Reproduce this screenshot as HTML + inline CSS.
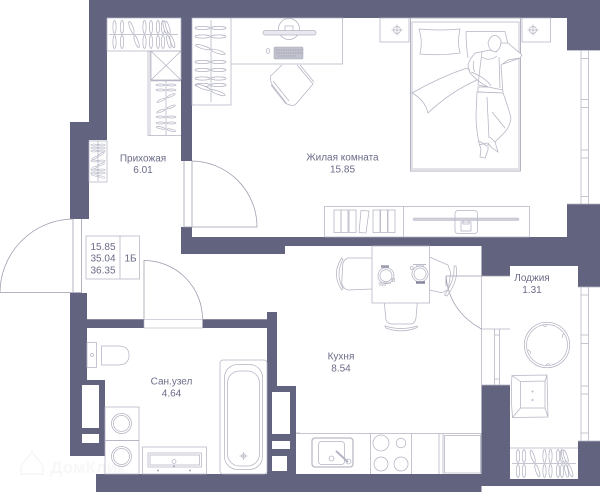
<!DOCTYPE html>
<html><head><meta charset="utf-8"><style>
html,body{margin:0;padding:0;background:#fff;width:600px;height:492px;overflow:hidden}
svg{display:block}
text{font-family:"Liberation Sans",sans-serif;font-size:10px;fill:#6b6c87;text-anchor:middle}
.f{fill:none;stroke:#b3b4c3;stroke-width:.75}
.d{fill:none;stroke:#9a9bae;stroke-width:.75}
.w{fill:#fff;stroke:#b3b4c3;stroke-width:.75}
</style></head><body>
<svg width="600" height="492" viewBox="0 0 600 492" xmlns="http://www.w3.org/2000/svg">
<defs>
<g id="h"><ellipse cx="0" cy="-7.500" rx="1.600" ry="6.500" fill="#fff" stroke="#b3b4c3" stroke-width=".7"/><ellipse cx="0" cy="7.500" rx="1.600" ry="6.500" fill="#fff" stroke="#b3b4c3" stroke-width=".7"/></g>
<g id="s"><ellipse cx="-5.500" cy="0" rx="4.500" ry="1" fill="#fff" stroke="#b3b4c3" stroke-width=".7"/><ellipse cx="5.500" cy="0" rx="4.500" ry="1" fill="#fff" stroke="#b3b4c3" stroke-width=".7"/></g>
<g id="m"><ellipse cx="-8" cy="0" rx="7.500" ry="1.600" fill="#fff" stroke="#b3b4c3" stroke-width=".7"/><ellipse cx="8" cy="0" rx="7.500" ry="1.600" fill="#fff" stroke="#b3b4c3" stroke-width=".7"/></g>
<g id="t"><ellipse cx="-3.800" cy="0" rx="3.300" ry=".9" fill="#fff" stroke="#b3b4c3" stroke-width=".6"/><ellipse cx="3.800" cy="0" rx="3.300" ry=".9" fill="#fff" stroke="#b3b4c3" stroke-width=".6"/></g>
</defs>

<!-- walls -->
<g fill="#62637e">
<path d="M89 0H600V50H567V18H192V161H181V18H107V140H89V219H70V122H89Z"/>
<path d="M181 227H192V237H567V204H600V246H285V254H181Z" />
<path d="M481.500 245H600V287H578V266H510V276H481.500Z"/>
<path d="M70 293H87V319.300H144V328H87V380H105V456H96V474H267V328H202.500V319.300H267V312H277V386H296V474H481.500V385H510V479H578V441H600V486H481.500V492H96V456H70Z"/>
</g>
<g fill="#fff">
<rect x="82" y="385" width="17" height="43"/>
<rect x="82" y="434" width="17" height="9"/>
<rect x="272" y="392" width="18" height="42"/>
<rect x="272" y="441" width="18" height="8"/>
<rect x="272" y="456" width="15" height="15"/>
</g>

<!-- hall wardrobe top -->
<rect class="f" x="107" y="18" width="74" height="33"/>
<path class="f" d="M109 34.500H178"/>
<use href="#h" x="114.500" y="34.500"/><use href="#h" x="122" y="34.500"/>
<use href="#h" transform="translate(134 34.500) rotate(-20)"/>
<use href="#h" x="144.500" y="34.500"/><use href="#h" x="151" y="34.500"/><use href="#h" x="158" y="34.500"/>
<use href="#h" x="163" y="34.500"/><use href="#h" transform="translate(167 34.500) rotate(-14)"/><use href="#h" transform="translate(170 34.500) rotate(-18)"/>

<!-- hall closet -->
<path class="f" d="M181 51H148V135.500H181M150 51V135.500"/>
<rect class="f" x="151" y="51" width="30" height="29"/>
<path class="f" d="M151 51L181 80M181 51L151 80"/>
<path d="M151 80.500H181" stroke="#b3b4c3" stroke-width="1.500"/>
<path class="f" d="M166 81V135"/>
<use href="#s" x="166" y="85"/><use href="#s" x="166" y="90"/>
<use href="#s" transform="translate(166 98) rotate(-25)"/>
<use href="#s" transform="translate(166 109) rotate(-22)"/>
<use href="#s" x="166" y="117"/><use href="#s" x="166" y="123"/>
<use href="#s" transform="translate(166 129) rotate(12)"/>

<!-- small closet -->
<rect class="f" x="89" y="141" width="18" height="41"/>
<path class="f" d="M98 141V181"/>
<use href="#t" x="98" y="145"/><use href="#t" x="98" y="148"/><use href="#t" x="98" y="151"/>
<use href="#t" transform="translate(98 156) rotate(-30)"/><use href="#t" x="98" y="161"/>
<use href="#t" transform="translate(98 166) rotate(-25)"/><use href="#t" x="98" y="170"/><use href="#t" x="98" y="173"/><use href="#t" transform="translate(98 176) rotate(15)"/>

<!-- bedroom wardrobe -->
<rect class="f" x="192" y="18" width="39" height="87"/>
<path class="f" d="M211 20V102"/>
<use href="#m" x="210.500" y="28"/><use href="#m" x="210.500" y="36.500"/>
<use href="#m" transform="translate(210.500 49.500) rotate(17)"/>
<use href="#m" x="210.500" y="62"/><use href="#m" x="210.500" y="70"/><use href="#m" x="210.500" y="78.500"/>
<use href="#m" x="210.500" y="85"/>
<use href="#m" transform="translate(210.500 90) rotate(20)"/>

<!-- desk -->
<path class="f" d="M231 18H342.500V64H231"/>
<circle class="f" cx="289" cy="29" r="10.500"/>
<rect class="f" x="285" y="26" width="8" height="5"/>
<rect x="263" y="30.500" width="53" height="4.500" rx="2.200" fill="#e8e8ee" stroke="#b3b4c3" stroke-width=".75"/>
<rect x="274" y="47" width="29" height="12" rx="1" fill="#c1c2cd" stroke="#a6a7b8" stroke-width=".5"/>
<path d="M276 50H303M276 53H303M278 56H296" stroke="#9596aa" stroke-width=".8" stroke-dasharray="1 .7"/>
<ellipse class="f" cx="268" cy="51" rx="1.500" ry="2.500"/>
<path class="f" d="M282 65L270.500 76Q270 82 273 86L287 104Q291 106 295 105L313 84L297 65"/>
<path class="f" d="M271 85L286 104M273 81L289 101M300 65L314 82"/>

<!-- bed -->
<rect class="f" x="380" y="18" width="29" height="24"/>
<rect class="f" x="522" y="18" width="28.500" height="24"/>
<g class="f"><circle cx="397" cy="30" r="3.500"/><path d="M391.500 30H402.500M397 24.500V35.500"/><circle cx="533" cy="30" r="3.500"/><path d="M527.500 30H538.500M533 24.500V35.500"/></g>
<rect x="410.500" y="18" width="110" height="153" fill="none" stroke="#b3b4c3" stroke-width="1"/>
<rect x="412" y="22" width="107" height="147" fill="none" stroke="#c4c5d0" stroke-width="1"/>
<path class="f" d="M419 29Q440 31 460 29Q457 42 460 53Q440 56 420 54Q423 41 419 29Z"/>
<path class="f" d="M466 31.500H505L508 44M466 31.500Q466 45 468 58"/>
<!-- blanket -->
<path class="w" d="M412 93Q440 77 467 68L477 80Q450 92 428 113Q425 100 412 93Z"/>
<path class="f" d="M503 64L520 58"/>
<!-- person -->
<path class="w" d="M490 50L475 53Q469 60 468 65L470 73Q478 82 488 87H478V92L503 93L501 65L508 60L520 58L522 55L508 43L501 43L499 48L496 52Z"/>
<path class="w" d="M488 43Q490 36 494 35.500Q499 35 501 41Q501 47 498 50Q496 53 493 51Q489 50 488 43Z"/>
<path class="f" d="M482 52L480 68L478 85M499 57L500 88M482 57Q489 62 497 56M478 85L503 90M474 61Q472 68 475 72M471 72Q480 75 488 82L491 86"/>
<path class="w" d="M477 92L503 93Q508 106 511 118Q510 126 505 132L495 142L498 152L492 148L488 143L488 150L485 158L480 157L481 149L479 143Q476 128 476 115Z"/>
<path class="f" d="M487 97L489 138M492 112Q497 118 505 128M479 141L487 146M479 145L487 143M490 137L495 142"/>

<!-- media unit -->
<rect class="f" x="324.500" y="206.500" width="205" height="30.500"/>
<path class="f" d="M403.500 206.500V237"/>
<g class="f"><rect x="334" y="210" width="7" height="22.500"/><rect x="341" y="210" width="7" height="22.500"/><rect x="349" y="210" width="7" height="22.500"/><path d="M361 210.500L369 211L366 233L359 232.500Z"/><rect x="373" y="210" width="7" height="22.500"/><rect x="380.500" y="210" width="7" height="22.500"/><rect x="388" y="210" width="7" height="22.500"/></g>
<rect x="413" y="218" width="106" height="2.500" rx="1.200" fill="#d0d1da" stroke="#b3b4c3" stroke-width=".5"/>
<rect class="f" x="455" y="210.500" width="22.500" height="23" rx="3"/>
<rect class="f" x="461" y="222" width="10" height="9"/>
<path class="f" d="M463 220V224H469V220"/>

<!-- doors -->
<path class="d" d="M192 161A66 66 0 0 1 257 227H184V161M192 161V227"/>
<path class="d" d="M73 219A74 74 0 0 0 0 292.500H81.500V219M73 219V292.500"/>
<path class="d" d="M144 319.300V260.500A58.500 58.500 0 0 1 202.500 319.300"/>
<rect x="144" y="319.500" width="58.500" height="8.500" fill="#fff" stroke="#b3b4c3" stroke-width=".6"/>

<!-- info -->
<path class="f" d="M86 236H139.500V279H86Z M120 236V279" stroke-width="1"/>
<text x="103" y="250">15.85</text><text x="103" y="261.500">35.04</text><text x="103" y="273.500">36.35</text>
<text x="130.500" y="261.500">1Б</text>

<!-- labels -->
<text x="143" y="161.500">Прихожая</text><text x="143" y="173">6.01</text>
<text x="342.500" y="160.500">Жилая комната</text><text x="342.500" y="172.500">15.85</text>
<text x="171.500" y="384.500">Сан.узел</text><text x="171.500" y="396.500">4.64</text>
<text x="341" y="359.500">Кухня</text><text x="341" y="371.500">8.54</text>
<text x="532" y="281">Лоджия</text><text x="532" y="293">1.31</text>

<!-- right window -->
<g class="f"><path d="M567 50.500H600M567 204H600M581 50.500V204M588.500 50.500V204M581 58.500H588.500M581 99.500H588.500M581 107.500H588.500M581 150H588.500M581 158H588.500M581 196.500H588.500"/></g>

<!-- loggia window -->
<g class="f"><path d="M578 287H600M578 441H600M581 287V441M588.500 287V441M581 295H588.500M581 335H588.500M581 343.500H588.500M581 386H588.500M581 394H588.500M581 433H588.500"/></g>
<!-- kitchen door/window -->
<rect x="481.500" y="276" width="28.500" height="109" fill="#fff"/>
<g class="f"><path d="M481.500 276V385H510M481.500 329H510M494.500 329V385M499.500 329V385M494.500 335H499.500M494.500 379H499.500"/></g>
<path class="d" d="M446 276H510M446 276Q449 311 481.500 329M446 276V286"/>

<!-- loggia -->
<circle class="f" cx="547" cy="345" r="22.700"/><circle class="f" cx="547" cy="345" r="20.500"/>
<g class="f"><path d="M543 324.500Q544.500 328 547 325.500M564 334Q561 335 563 338M550 365Q548 362 546 365.500M530 354Q532 352 528 350"/></g>
<path class="f" d="M512 375.500L547 375L548 417L512.500 417.500Q510.500 396 512 375.500ZM520.500 381.500L545 381L545 408L520.500 408Z M512 375.500L520.500 381.500M547 375L545 381M512.500 417.500L520.500 408M548 417L545 408"/>
<circle class="f" cx="532.500" cy="391.500" r=".6"/><circle class="f" cx="532.500" cy="400" r=".6"/>
<!-- loggia wardrobe -->
<path class="f" d="M510 448H578M512 463.500H576"/>
<use href="#h" x="518" y="463.500"/><use href="#h" x="524" y="463.500"/>
<use href="#h" transform="translate(535 463.500) rotate(-18)"/>
<use href="#h" x="544.500" y="463.500"/><use href="#h" x="550.500" y="463.500"/><use href="#h" x="558" y="463.500"/>
<use href="#h" x="562" y="463.500"/><use href="#h" transform="translate(565 463.500) rotate(-12)"/><use href="#h" transform="translate(568 463.500) rotate(-18)"/>

<!-- dining -->
<path class="f" d="M372 258L348 258Q343 260 342.700 265L341.700 283Q343 289 348 290L372 289"/>
<path class="f" d="M341.700 258Q331 274 341.700 290L343 288.500Q335 274 343 259.500Z"/>
<path class="f" d="M429.500 257L448 265L450.700 273L448 290L441.700 292.700L429.500 290"/>
<path class="f" d="M454 266L456 266Q459 280 447 296L444.500 295Q455 280 454 266Z"/>
<rect class="f" x="372" y="246" width="57.500" height="57"/>
<path class="f" d="M384.300 303L386 320Q388 324 391.700 324H411.700Q415 323 416 318L417.300 303"/>
<path class="f" d="M385 326Q401 331 417.300 326L417.300 327.500Q401 334 386 328Z"/>
<circle class="f" cx="386" cy="275.700" r="8"/><circle class="f" cx="386" cy="275.700" r="6"/>
<circle class="f" cx="393.300" cy="280" r="1.500"/>
<path d="M381 266.500H389" stroke="#9a9bae" stroke-width="2.500"/><path d="M378.500 283H391M379 285H386" stroke="#a6a7b8" stroke-width=".8"/>
<circle class="f" cx="420" cy="274" r="8"/><circle class="f" cx="420" cy="274" r="6"/>
<circle class="f" cx="411.700" cy="268" r="1.500"/>
<path d="M413 264.500H426M416 266H424" stroke="#a6a7b8" stroke-width=".8"/><path d="M416 282.500H425" stroke="#85869c" stroke-width="2.500"/>

<!-- kitchen counter -->
<path class="f" d="M296 433.500H481V474M370.500 433.500V474M411.500 433.500V474M439 433.500V474M443 433.500V474"/>
<rect class="f" x="444.500" y="435.500" width="36" height="37.500"/>
<rect x="312" y="438" width="41" height="29" rx="3" fill="#fff" stroke="#b9bac7" stroke-width="1.300"/>
<rect class="f" x="318.500" y="441.500" width="26" height="23" rx="3"/>
<circle class="f" cx="331.500" cy="458.500" r="2.500"/>
<path d="M336 451L348 462" stroke="#b3b4c3" stroke-width="2"/>
<circle class="f" cx="348.500" cy="461.500" r="2.500"/>
<circle class="f" cx="381" cy="443" r="8"/><circle class="f" cx="401" cy="443" r="4.800"/>
<circle class="f" cx="381" cy="464" r="7"/><circle class="f" cx="401" cy="464" r="7"/>

<!-- bathroom -->
<rect class="f" x="87" y="342.500" width="9.500" height="25"/>
<circle class="f" cx="92" cy="355" r="1.500"/>
<path class="f" d="M101.500 346H118Q129 346 129 355Q129 365 118 365H101.500Z"/>
<rect class="f" x="220" y="360" width="47" height="114" rx="3"/>
<rect class="f" x="224.500" y="364.500" width="38" height="105" rx="13"/>
<rect class="f" x="227.500" y="371" width="32" height="95" rx="12"/>
<g class="f"><circle cx="243.500" cy="456" r="2"/><path d="M239.500 456H247.500M243.500 452V460"/></g>
<rect class="f" x="105" y="407" width="34" height="33.500"/>
<rect class="f" x="105" y="440.500" width="34" height="33.500"/>
<circle class="f" cx="121.500" cy="423.500" r="10"/><circle class="f" cx="121.500" cy="423.500" r="8"/>
<circle class="f" cx="121.500" cy="456.500" r="10"/><circle class="f" cx="121.500" cy="456.500" r="8"/>
<rect class="f" x="142.500" y="447" width="64" height="27"/>
<rect class="f" x="148" y="453" width="53.500" height="14"/>
<rect class="f" x="150" y="455" width="49.500" height="10"/>
<circle class="f" cx="174" cy="461.500" r="2"/>
<g fill="#a6a7b8"><circle cx="158" cy="470.500" r="1"/><circle cx="174" cy="466.500" r="1"/><circle cx="190" cy="470.500" r="1"/></g>
<path class="f" d="M296 433H300"/>

<!-- watermark -->
<path d="M21 466L32 452L43 466V474H21Z" fill="none" stroke="#8d8ea3" stroke-opacity=".08" stroke-width="1.500"/>
<text x="88" y="473" style="font-size:17px;font-weight:bold;fill:#9596a8;fill-opacity:.08">ДомКлик</text>
</svg>
</body></html>
